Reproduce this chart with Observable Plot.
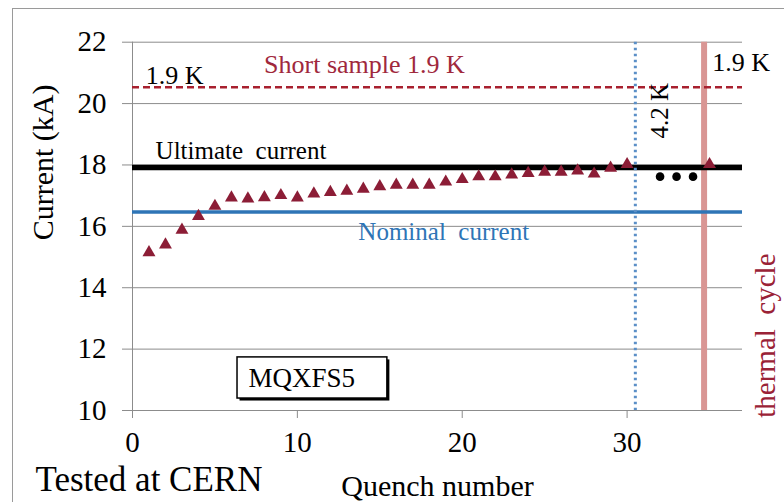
<!DOCTYPE html>
<html><head><meta charset="utf-8">
<script src="https://cdn.jsdelivr.net/npm/d3@7"></script>
<script src="https://cdn.jsdelivr.net/npm/@observablehq/plot@0.6"></script>
<style>
body{margin:0;background:#fff;}
#wrap{position:relative;width:784px;height:502px;overflow:hidden;background:#fff;}
#border{position:absolute;left:12px;top:8px;width:800px;height:520px;border-left:1.5px solid #9a9a9a;border-top:1.5px solid #9a9a9a;pointer-events:none;}
#wrap svg{position:absolute;left:0;top:0;}
</style></head><body><div id="wrap"><div id="border"></div></div>
<script>
// Quench training data (1.9 K)
const quenchNumbers = [1,2,3,4,5,6,7,8,9,10,11,12,13,14,15,16,17,18,19,20,21,22,23,24,25,26,27,28,29,30,35];
const quenchCurrents = [15.15,15.40,15.88,16.33,16.66,16.93,16.90,16.94,17.01,16.93,17.06,17.11,17.15,17.22,17.30,17.35,17.35,17.35,17.45,17.53,17.62,17.62,17.68,17.73,17.77,17.77,17.81,17.71,17.90,18.02,18.02];
// Quenches at 4.2 K (black dots)
const warmQuenchNumbers = [32,33,34];
const warmQuenchCurrents = [17.62,17.62,17.62];
// Reference levels (kA)
const shortSample = 20.53;
const ultimateCurrent = 17.92;
const nominalCurrent = 16.47;
// Vertical markers (quench number)
const tempChange = 30.5;
const thermalCycle = 34.67;
// Axis ticks
const yTicks = [10,12,14,16,18,20,22];
const xTicks = [0,10,20,30];

const quenches = quenchNumbers.map((q,i)=>({q, I: quenchCurrents[i]}));
const warm = warmQuenchNumbers.map((q,i)=>({q, I: warmQuenchCurrents[i]}));

const FONT = "'Liberation Serif','Times New Roman',serif";
const grid = "#8c8c8c";
const darkRed = "#a0283c";

const plot = Plot.plot({
  width: 784, height: 502,
  marginLeft: 132, marginRight: 42, marginTop: 41.7, marginBottom: 92,
  x: {domain: [0, 37]},
  y: {domain: [10, 22]},
  style: {fontFamily: FONT, background: "transparent", color: "#000", overflow: "visible"},
  marks: [
    Plot.ruleY(yTicks, {stroke: grid, strokeWidth: 1}),
    Plot.ruleX([0], {stroke: grid, strokeWidth: 1}),
    Plot.axisY({ticks: yTicks, tickSize: 10, tickPadding: 16, fontSize: 29, label: null, stroke: grid, fontFamily: FONT}),
    Plot.axisX({ticks: xTicks, tickSize: 8, tickPadding: 13, fontSize: 29, label: null, stroke: grid, fontFamily: FONT}),
    Plot.ruleX([thermalCycle], {stroke: "#d99694", strokeWidth: 6}),
    Plot.ruleY([shortSample], {stroke: "#a8202f", strokeWidth: 2.5, strokeDasharray: "7,4"}),
    Plot.ruleY([ultimateCurrent], {stroke: "#000", strokeWidth: 5.5}),
    Plot.ruleY([nominalCurrent], {stroke: "#2e75b6", strokeWidth: 3.5}),
    Plot.ruleX([tempChange], {stroke: "#5b8fc7", strokeWidth: 3, strokeDasharray: "2.5,3.5"}),
    Plot.dot(quenches, {x: "q", y: "I", symbol: "triangle", r: 4.8, fill: "#8c1d36"}),
    Plot.dot(warm, {x: "q", y: "I", r: 4.3, fill: "#000"}),
    // annotations
    Plot.text(["1.9 K"], {x: 0.8, y: shortSample, dy: -12, textAnchor: "start", fontSize: 26, fill: "#000", fontFamily: FONT}),
    Plot.text(["Short sample 1.9 K"], {x: 14.07, y: shortSample, dy: -23, textAnchor: "middle", fontSize: 26, fill: darkRed, fontFamily: FONT}),
    Plot.text(["1.9 K"], {x: 35.17, y: shortSample, dy: -25, textAnchor: "start", fontSize: 26, fill: "#000", fontFamily: FONT}),
    Plot.text(["Ultimate\u00a0 current"], {x: 1.4, y: ultimateCurrent, dy: -16, textAnchor: "start", fontSize: 25, fill: "#000", fontFamily: FONT}),
    Plot.text(["Nominal\u00a0 current"], {x: 13.7, y: nominalCurrent, dy: 20, textAnchor: "start", fontSize: 25, fill: "#2e75b6", fontFamily: FONT}),
    Plot.text(["4.2 K"], {x: 32.0, y: 19.77, rotate: -90, textAnchor: "middle", fontSize: 25, fill: "#000", fontFamily: FONT}),
    Plot.text(["thermal\u00a0 cycle"], {x: 38.4, y: 12.44, rotate: -90, textAnchor: "middle", fontSize: 29, fill: "#9a2236", fontFamily: FONT}),
    Plot.rect([0], {x1: 6.37, x2: 15.46, y1: 10.39, y2: 11.73, fill: "#000", dx: 2.5, dy: 2.5}),
    Plot.rect([0], {x1: 6.37, x2: 15.46, y1: 10.39, y2: 11.73, fill: "#fff", stroke: "#000", strokeWidth: 1.5}),
    Plot.text(["MQXFS5"], {x: 7.03, y: 11.04, textAnchor: "start", fontSize: 27, fill: "#000", fontFamily: FONT}),
    Plot.text(["Quench number"], {frameAnchor: "bottom", dy: 85, fontSize: 30, fill: "#000", fontFamily: FONT}),
    Plot.text(["Current (kA)"], {frameAnchor: "left", dx: -89, dy: 14, rotate: -90, fontSize: 30, fill: "#000", fontFamily: FONT}),
    Plot.text(["Tested at CERN"], {frameAnchor: "bottom-left", dx: -97, dy: 80, textAnchor: "start", fontSize: 35, fill: "#000", fontFamily: FONT})
  ]
});
document.getElementById("wrap").appendChild(plot);
</script>
</body></html>
